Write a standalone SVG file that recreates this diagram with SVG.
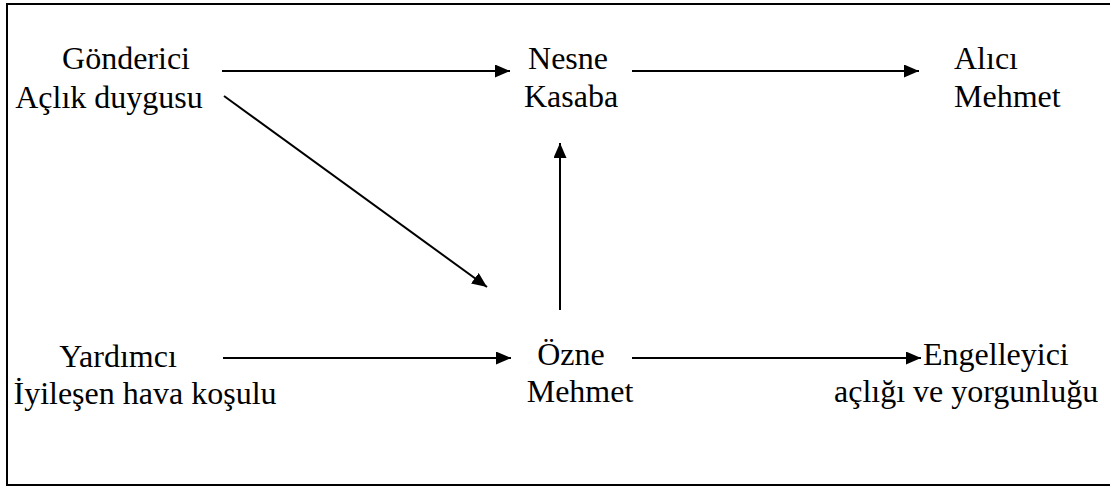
<svg xmlns="http://www.w3.org/2000/svg" width="1110" height="487" viewBox="0 0 1110 487">
<defs>
<marker id="ah" viewBox="0 0 15 13" refX="15" refY="6.5" markerWidth="15" markerHeight="13" markerUnits="userSpaceOnUse" orient="auto">
<path d="M0,0 L15,6.5 L0,13 Z" fill="#000"/>
</marker>
<style>
text{font-family:'Liberation Serif','Times New Roman',serif;font-size:32px;fill:#000}
.c{text-anchor:middle}
.e{stroke:#000;stroke-width:2;fill:none;marker-end:url(#ah)}
</style>
</defs>
<rect x="7" y="4" width="1120" height="481" fill="#fff" stroke="#000" stroke-width="2"/>
<g id="gonderici"><text class="c" x="126" y="69">Gönderici</text><text class="c" x="109" y="108">Açlık duygusu</text></g>
<g id="nesne"><text class="c" x="568" y="69">Nesne</text><text class="c" x="571" y="107">Kasaba</text></g>
<g id="alici"><text x="954" y="69">Alıcı</text><text x="954" y="107">Mehmet</text></g>
<g id="yardimci"><text class="c" x="118" y="367">Yardımcı</text><text class="c" x="145" y="404">İyileşen hava koşulu</text></g>
<g id="ozne"><text class="c" x="571" y="365">Özne</text><text class="c" x="580" y="402">Mehmet</text></g>
<g id="engelleyici"><text x="923" y="365">Engelleyici</text><text x="834" y="402">açlığı ve yorgunluğu</text></g>
<g id="connectors">
<line class="e" x1="222" y1="71" x2="510" y2="71"/>
<line class="e" x1="632" y1="71" x2="919" y2="71"/>
<line class="e" x1="224" y1="96" x2="487" y2="287"/>
<line class="e" x1="560" y1="310" x2="560" y2="143"/>
<line class="e" x1="223" y1="358" x2="511" y2="358"/>
<line class="e" x1="632" y1="358" x2="921" y2="358"/>
</g>
</svg>
